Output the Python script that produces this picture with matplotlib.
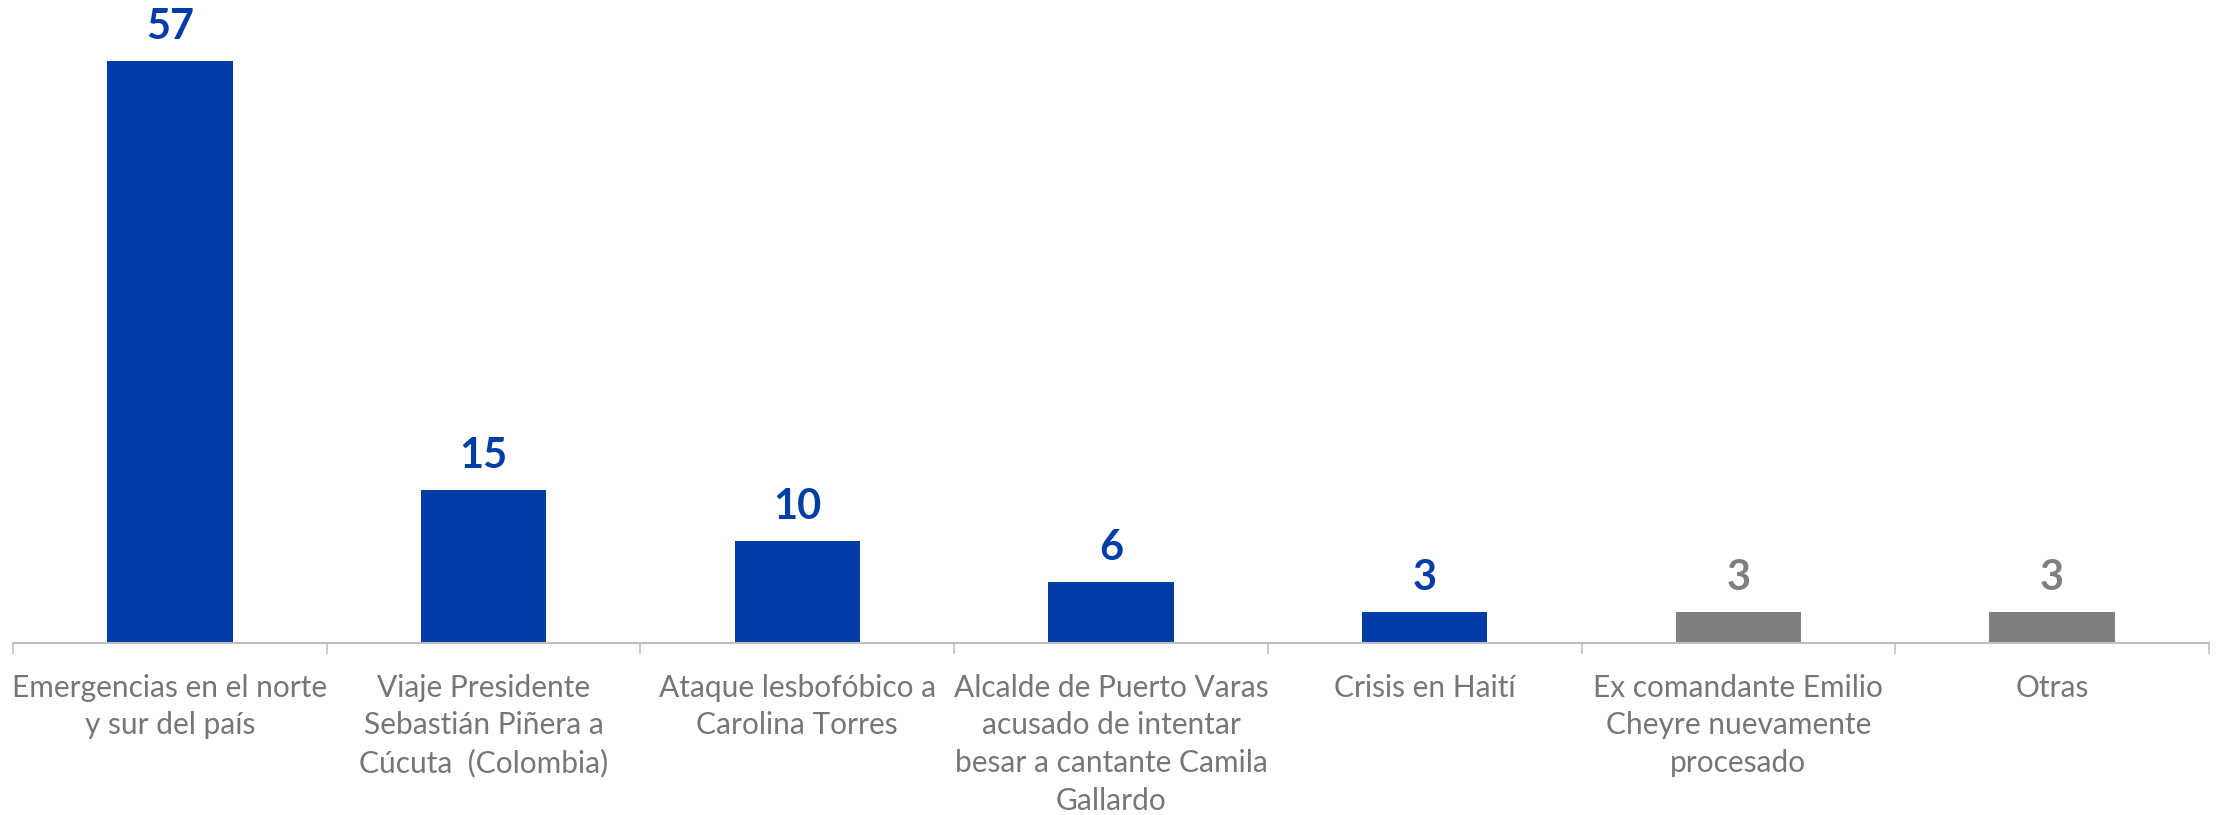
import matplotlib
matplotlib.use("Agg")
import matplotlib.pyplot as plt

categorias = [
    "Emergencias en el norte\ny sur del país",
    "Viaje Presidente\nSebastián Piñera a\nCúcuta  (Colombia)",
    "Ataque lesbofóbico a\nCarolina Torres",
    "Alcalde de Puerto Varas\nacusado de intentar\nbesar a cantante Camila\nGallardo",
    "Crisis en Haití",
    "Ex comandante Emilio\nCheyre nuevamente\nprocesado",
    "Otras",
]
valores = [57, 15, 10, 6, 3, 3, 3]
destacado = [True, True, True, True, True, False, False]

azul = "#003DA6"
gris = "#7F7F7F"
colores = [azul if d else gris for d in destacado]

plt.rcParams["font.family"] = ["Lato", "DejaVu Sans"]

fig = plt.figure(figsize=(22.16, 8.15), dpi=100)
ax = fig.add_axes([0.0059, 0.211, 0.9909, 0.789])

x = list(range(len(valores)))
ax.bar(x, valores, width=0.4, color=colores, zorder=2)

for xi, v, c in zip(x, valores, colores):
    ax.annotate(str(v), (xi, v), xytext=(0, 11), textcoords="offset points",
                ha="center", va="bottom", fontsize=30, fontweight="bold", color=c)

ax.set_xlim(-0.5, len(valores) - 0.5)
ax.set_ylim(0, 63)

for s in ["top", "right", "left"]:
    ax.spines[s].set_visible(False)
ax.spines["bottom"].set_color("#BFBFBF")
ax.spines["bottom"].set_linewidth(1.5)
ax.set_yticks([])

ax.set_xticks([i - 0.5 for i in range(len(valores) + 1)])
ax.set_xticklabels([])
ax.tick_params(axis="x", which="major", length=8, width=1.2, color="#BFBFBF")
ax.set_xticks(x, minor=True)
ax.set_xticklabels(categorias, minor=True, fontsize=21.5, color="#767676",
                   linespacing=1.42, va="top")
ax.tick_params(axis="x", which="minor", length=0, pad=22)

fig.savefig("out.png", dpi=100)
